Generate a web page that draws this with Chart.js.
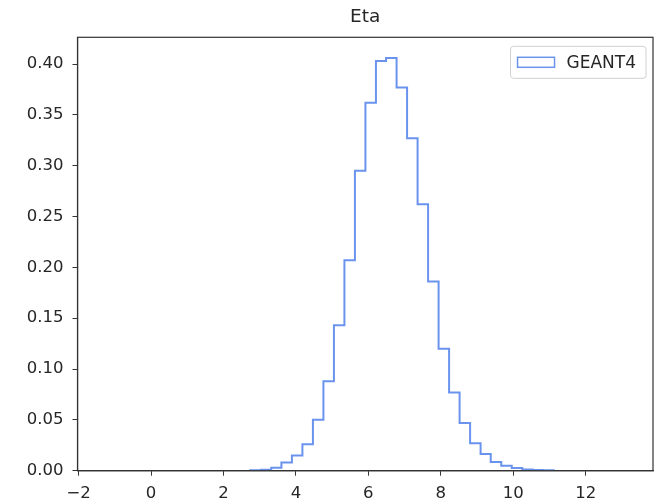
<!DOCTYPE html>
<html lang="en">
<head>
    <meta charset="UTF-8">
    <title>Eta</title>
    <script src="https://cdn.jsdelivr.net/npm/chart.js"></script>
    <style>
        html, body {
            margin: 0;
            padding: 0;
            background: #ffffff;
        }
        #wrap {
            width: 654px;
            height: 502px;
        }
    </style>
</head>
<body>
    <div id="wrap"><canvas id="etaChart" width="654" height="502"></canvas></div>

    <script>
        // histogram bin edges (eta) and normalised bin contents
        const binEdges = [2.74, 3.03, 3.32, 3.60, 3.89, 4.18, 4.47, 4.76, 5.05, 5.34,
                          5.63, 5.92, 6.21, 6.49, 6.78, 7.07, 7.36, 7.65, 7.94, 8.23,
                          8.52, 8.81, 9.10, 9.38, 9.67, 9.96, 10.25, 10.54, 10.83, 11.12];
        const geant4 = [0.0005, 0.001, 0.003, 0.008, 0.015, 0.026, 0.050, 0.088, 0.143, 0.207,
                        0.295, 0.362, 0.403, 0.406, 0.377, 0.327, 0.262, 0.186, 0.120, 0.077,
                        0.047, 0.027, 0.0165, 0.0085, 0.0049, 0.0026, 0.0012, 0.0008, 0.0005];
        const xTicks = [-2, 0, 2, 4, 6, 8, 10, 12];
        const yTicks = [0, 0.05, 0.10, 0.15, 0.20, 0.25, 0.30, 0.35, 0.40];
        const titleText = 'Eta';

        const lineColor = '#6a93ee';
        const inkColor = '#262626';
        const font = 'DejaVu Sans';

        // step outline: start on the baseline, one point per bin, back down at the last edge
        const stepPoints = [{ x: binEdges[0], y: 0 }];
        geant4.forEach((v, i) => stepPoints.push({ x: binEdges[i], y: v }));
        stepPoints.push({ x: binEdges[binEdges.length - 1], y: geant4[geant4.length - 1] });
        stepPoints.push({ x: binEdges[binEdges.length - 1], y: 0 });

        // box around the axes + title centred over the plot area
        const frame = {
            id: 'frame',
            afterDatasetsDraw(chart) {
                const { ctx, chartArea: a } = chart;
                ctx.save();
                ctx.strokeStyle = '#333333';
                ctx.lineWidth = 1.2;
                ctx.strokeRect(a.left, a.top, a.right - a.left, a.bottom - a.top);
                ctx.fillStyle = inkColor;
                ctx.font = '18.5px "' + font + '"';
                ctx.textAlign = 'center';
                ctx.textBaseline = 'middle';
                ctx.fillText(titleText, (a.left + a.right) / 2, a.top - 20);
                ctx.restore();
            }
        };

        // legend box in the upper right corner
        const boxLegend = {
            id: 'boxLegend',
            afterDraw(chart) {
                const { ctx, chartArea: a } = chart;
                const ds = chart.data.datasets[0];
                ctx.save();
                ctx.font = '17px "' + font + '"';
                const tw = ctx.measureText(ds.label).width;
                const w = 7 + 37 + 12 + tw + 10;
                const h = 32;
                const x = a.right - 7 - w;
                const y = a.top + 9;
                ctx.fillStyle = 'rgba(255,255,255,0.8)';
                ctx.strokeStyle = '#d0d0d0';
                ctx.lineWidth = 1;
                ctx.beginPath();
                ctx.roundRect(x, y, w, h, 3);
                ctx.fill();
                ctx.stroke();
                ctx.strokeStyle = ds.borderColor;
                ctx.lineWidth = 1.5;
                ctx.strokeRect(x + 7, y + 11, 37, 10);
                ctx.fillStyle = inkColor;
                ctx.textBaseline = 'middle';
                ctx.fillText(ds.label, x + 7 + 37 + 12, y + h / 2 + 1);
                ctx.restore();
            }
        };

        const ctx = document.getElementById('etaChart').getContext('2d');
        new Chart(ctx, {
            type: 'line',
            data: {
                datasets: [{
                    label: 'GEANT4',
                    data: stepPoints,
                    borderColor: lineColor,
                    borderWidth: 2,
                    stepped: 'before',
                    pointRadius: 0,
                    fill: false
                }]
            },
            options: {
                responsive: false,
                animation: false,
                layout: { padding: { left: 0, right: 1, top: 37.3, bottom: 0 } },
                scales: {
                    x: {
                        type: 'linear',
                        min: -2.03,
                        max: 13.86,
                        afterBuildTicks: s => { s.ticks = xTicks.map(v => ({ value: v })); },
                        afterFit: s => { s.height = 31.3; },
                        grid: { display: true, drawOnChartArea: false, drawTicks: true, tickLength: 5, color: '#333333' },
                        border: { display: true, color: '#333333', width: 1.2 },
                        ticks: {
                            color: inkColor,
                            padding: 8,
                            maxRotation: 0,
                            font: { family: font, size: 16.5 },
                            callback: v => (v < 0 ? '\u2212' + Math.abs(v) : String(v))
                        }
                    },
                    y: {
                        min: 0,
                        max: 0.4263,
                        afterBuildTicks: s => { s.ticks = yTicks.map(v => ({ value: v })); },
                        afterFit: s => { s.width = 77.5; },
                        grid: { display: true, drawOnChartArea: false, drawTicks: true, tickLength: 5, color: '#333333' },
                        border: { display: true, color: '#333333', width: 1.2 },
                        ticks: {
                            color: inkColor,
                            padding: 9,
                            font: { family: font, size: 16.5 },
                            callback: v => v.toFixed(2)
                        }
                    }
                },
                plugins: {
                    legend: { display: false },
                    tooltip: { enabled: false },
                    title: { display: false }
                }
            },
            plugins: [frame, boxLegend]
        });
    </script>
</body>
</html>
